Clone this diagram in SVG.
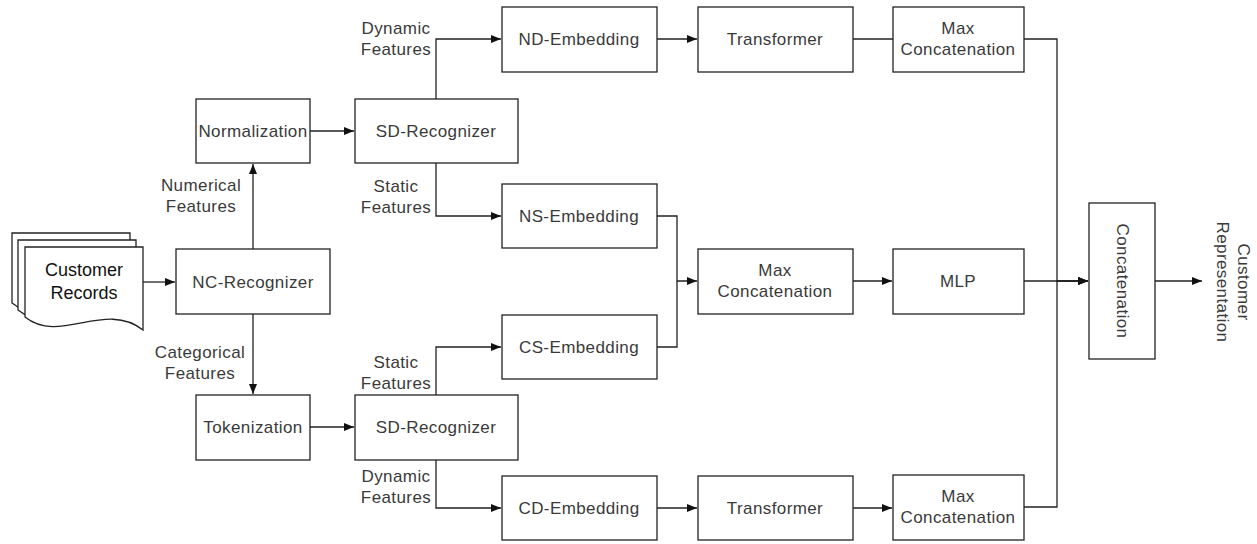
<svg xmlns="http://www.w3.org/2000/svg" width="1257" height="544" viewBox="0 0 1257 544">
<defs>
<marker id="arr" viewBox="0 0 10 8" refX="10" refY="4" markerWidth="11" markerHeight="8" markerUnits="userSpaceOnUse" orient="auto">
<path d="M0,0 L10,4 L0,8 Z" fill="#111"/>
</marker>
<path id="doc" d="M25,247 H143 V330 C105,300 60,345 25,317 Z"/>
</defs>
<style>
.box{fill:#fff;stroke:#222;stroke-width:1.3}
.t{font-family:"Liberation Sans",Arial,sans-serif;font-size:17px;fill:#3a3a3a;text-anchor:middle;letter-spacing:0.4px}
.big{font-size:18px;fill:#111;letter-spacing:0}
.c{fill:none;stroke:#222;stroke-width:1.3}
.a{marker-end:url(#arr)}
</style>
<rect width="1257" height="544" fill="#fff"/>

<g id="connectors">
<path class="c a" d="M143,282 H175"/>
<path class="c a" d="M253,249 V164"/>
<path class="c a" d="M253,314 V394"/>
<path class="c a" d="M310,131 H354"/>
<path class="c a" d="M310,427 H354"/>
<path class="c a" d="M436,99 V39 H501"/>
<path class="c a" d="M436,163 V216 H501"/>
<path class="c a" d="M436,395 V347 H501"/>
<path class="c a" d="M436,460 V508 H501"/>
<path class="c a" d="M657,39 H697"/>
<path class="c" d="M853,39 H893"/>
<path class="c a" d="M657,508 H697"/>
<path class="c a" d="M853,508 H892"/>
<path class="c a" d="M657,216 H677 V281 H697"/>
<path class="c" d="M657,347 H677 V281"/>
<path class="c a" d="M853,281 H892"/>
<path class="c a" d="M1024,39 H1057 V281 H1088"/>
<path class="c a" d="M1024,507 H1057 V281 H1088"/>
<path class="c a" d="M1024,281 H1088"/>
<path class="c a" d="M1155,281 H1202"/>
</g>

<g id="labels">
<text class="t" x="396" y="34">Dynamic</text>
<text class="t" x="396" y="55">Features</text>
<text class="t" x="201" y="191">Numerical</text>
<text class="t" x="201" y="212">Features</text>
<text class="t" x="396" y="192">Static</text>
<text class="t" x="396" y="213">Features</text>
<text class="t" x="200" y="358">Categorical</text>
<text class="t" x="200" y="379">Features</text>
<text class="t" x="396" y="368">Static</text>
<text class="t" x="396" y="389">Features</text>
<text class="t" x="396" y="482">Dynamic</text>
<text class="t" x="396" y="503">Features</text>
<text class="t" transform="translate(1233,282) rotate(90)"><tspan x="0" y="-5">Customer</tspan><tspan x="0" y="16">Representation</tspan></text>
</g>

<g id="customer-records">
<use href="#doc" class="box" transform="translate(-13,-14)"/>
<use href="#doc" class="box" transform="translate(-7,-7)"/>
<use href="#doc" class="box"/>
<text class="t big" x="84" y="276">Customer</text>
<text class="t big" x="84" y="299">Records</text>
</g>

<g id="nc-recognizer"><rect class="box" x="176" y="249" width="154" height="65"/><text class="t" x="253" y="288">NC-Recognizer</text></g>
<g id="normalization"><rect class="box" x="196" y="99" width="114" height="64"/><text class="t" x="253" y="137">Normalization</text></g>
<g id="tokenization"><rect class="box" x="196" y="395" width="114" height="65"/><text class="t" x="253" y="433">Tokenization</text></g>
<g id="sd-recognizer-top"><rect class="box" x="355" y="99" width="163" height="64"/><text class="t" x="436" y="137">SD-Recognizer</text></g>
<g id="sd-recognizer-bottom"><rect class="box" x="355" y="395" width="163" height="65"/><text class="t" x="436" y="433">SD-Recognizer</text></g>
<g id="nd-embedding"><rect class="box" x="502" y="7" width="155" height="65"/><text class="t" x="579" y="45">ND-Embedding</text></g>
<g id="ns-embedding"><rect class="box" x="502" y="184" width="155" height="64"/><text class="t" x="579" y="222">NS-Embedding</text></g>
<g id="cs-embedding"><rect class="box" x="502" y="315" width="155" height="64"/><text class="t" x="579" y="353">CS-Embedding</text></g>
<g id="cd-embedding"><rect class="box" x="502" y="476" width="155" height="64"/><text class="t" x="579" y="514">CD-Embedding</text></g>
<g id="transformer-top"><rect class="box" x="698" y="7" width="155" height="65"/><text class="t" x="775" y="45">Transformer</text></g>
<g id="transformer-bottom"><rect class="box" x="698" y="476" width="155" height="64"/><text class="t" x="775" y="514">Transformer</text></g>
<g id="max-concat-mid"><rect class="box" x="698" y="249" width="155" height="65"/><text class="t" x="775" y="276">Max</text><text class="t" x="775" y="297">Concatenation</text></g>
<g id="mlp"><rect class="box" x="893" y="249" width="131" height="65"/><text class="t" x="958" y="287">MLP</text></g>
<g id="max-concat-top"><rect class="box" x="893" y="7" width="131" height="65"/><text class="t" x="958" y="34">Max</text><text class="t" x="958" y="55">Concatenation</text></g>
<g id="max-concat-bottom"><rect class="box" x="893" y="475" width="131" height="65"/><text class="t" x="958" y="502">Max</text><text class="t" x="958" y="523">Concatenation</text></g>
<g id="concatenation"><rect class="box" x="1089" y="203" width="66" height="156"/><text class="t" transform="translate(1123,281) rotate(90)" x="0" y="6">Concatenation</text></g>
</svg>
